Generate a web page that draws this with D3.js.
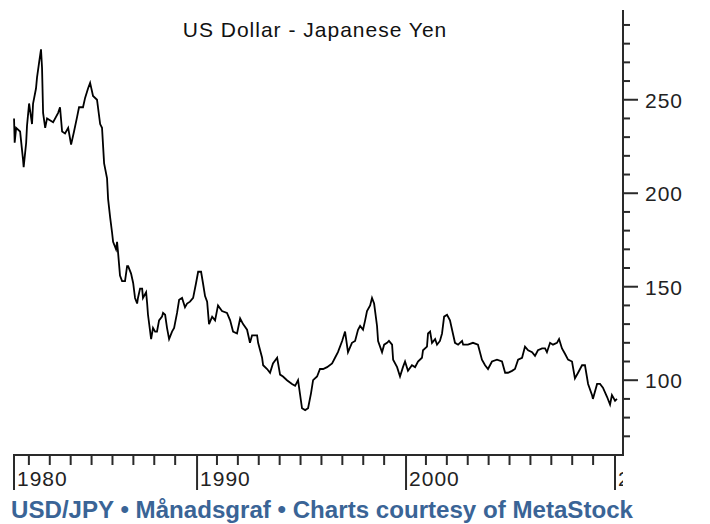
<!DOCTYPE html>
<html>
<head>
<meta charset="utf-8">
<script src="https://cdn.jsdelivr.net/npm/d3@7"></script>
<style>
    body { margin: 0; background: #fff; }
    svg { display: block; }
</style>
</head>
<body>
<div id="draw_here"></div>
<script type="text/javascript">
    // Data (decimal year, USD/JPY close)
    years = [
        1981.29, 1981.32, 1981.39, 1981.58, 1981.72, 1981.75, 1981.87, 1981.91, 1982.01, 1982.15,
        1982.20, 1982.34, 1982.39, 1982.49, 1982.58, 1982.63, 1982.68, 1982.78, 1982.87, 1983.16,
        1983.40, 1983.49, 1983.59, 1983.73, 1983.88, 1984.02, 1984.16, 1984.31, 1984.40, 1984.59,
        1984.69, 1984.83, 1984.93, 1985.07, 1985.26, 1985.41, 1985.50, 1985.60, 1985.74, 1985.79,
        1985.89, 1985.98, 1986.03, 1986.17, 1986.22, 1986.27, 1986.36, 1986.46, 1986.60, 1986.70,
        1986.75, 1986.89, 1986.99, 1987.08, 1987.18, 1987.22, 1987.32, 1987.42, 1987.46, 1987.61,
        1987.66, 1987.70, 1987.85, 1987.94, 1988.04, 1988.13, 1988.23, 1988.37, 1988.42, 1988.52,
        1988.61, 1988.71, 1988.85, 1988.95, 1989.09, 1989.19, 1989.33, 1989.47, 1989.57, 1989.71,
        1989.86, 1990.00, 1990.10, 1990.24, 1990.33, 1990.43, 1990.53, 1990.62, 1990.77, 1990.91,
        1991.05, 1991.24, 1991.48, 1991.63, 1991.77, 1991.96, 1992.11, 1992.25, 1992.44, 1992.58,
        1992.68, 1992.92, 1992.97, 1993.16, 1993.21, 1993.40, 1993.54, 1993.68, 1993.88, 1994.02,
        1994.16, 1994.35, 1994.59, 1994.74, 1994.88, 1995.07, 1995.22, 1995.36, 1995.50, 1995.60,
        1995.79, 1995.93, 1996.08, 1996.27, 1996.51, 1996.65, 1996.79, 1996.99, 1997.13, 1997.27,
        1997.46, 1997.61, 1997.75, 1997.85, 1997.99, 1998.09, 1998.18, 1998.33, 1998.42, 1998.52,
        1998.66, 1998.71, 1998.90, 1999.00, 1999.14, 1999.23, 1999.38, 1999.43, 1999.62, 1999.76,
        1999.90, 2000.00, 2000.14, 2000.33, 2000.48, 2000.62, 2000.81, 2000.86, 2001.05, 2001.10,
        2001.20, 2001.29, 2001.44, 2001.53, 2001.67, 2001.77, 2001.87, 2002.01, 2002.15, 2002.25,
        2002.39, 2002.54, 2002.73, 2002.78, 2003.01, 2003.25, 2003.49, 2003.68, 2003.83, 2003.97,
        2004.16, 2004.40, 2004.64, 2004.79, 2004.93, 2005.12, 2005.26, 2005.41, 2005.60, 2005.74,
        2005.89, 2006.08, 2006.22, 2006.36, 2006.56, 2006.70, 2006.79, 2006.94, 2007.08, 2007.27,
        2007.37, 2007.51, 2007.66, 2007.80, 2007.99, 2008.13, 2008.28, 2008.47, 2008.61, 2008.76,
        2008.95, 2008.99, 2009.19, 2009.33, 2009.47, 2009.67, 2009.81, 2009.90, 2010.05, 2010.14
    ]
    usdjpy = [
        240, 227, 235, 233, 218, 214, 227, 236, 248, 237,
        248, 256, 262, 270, 277, 267, 243, 235, 240, 238,
        243, 246, 233, 232, 235, 226, 233, 241, 246, 246,
        251, 256, 259, 252, 250, 237, 235, 216, 208, 197,
        187, 179, 174, 170, 174, 168, 156, 153, 153, 161,
        161, 157, 152, 144, 141, 144, 149, 149, 144, 147,
        141, 135, 122, 128, 126, 126, 132, 134, 136, 135,
        128, 122, 126, 128, 136, 143, 144, 139, 141, 142,
        144, 152, 158, 158, 152, 145, 142, 130, 134, 132,
        140, 137, 136, 132, 126, 125, 133, 130, 127, 120,
        124, 124, 120, 112, 108, 106, 104, 109, 112, 103,
        102, 100, 98, 97, 100, 85, 84, 85, 93, 100,
        102, 106, 106, 107, 109, 112, 115, 121, 126, 115,
        120, 121, 127, 129, 127, 132, 137, 140, 144, 141,
        129, 121, 115, 119, 120, 121, 119, 111, 107, 102,
        107, 110, 105, 108, 107, 110, 112, 116, 118, 125,
        126, 120, 122, 119, 121, 125, 134, 135, 132, 127,
        120, 119, 121, 119, 119, 120, 119, 111, 108, 106,
        110, 111, 110, 104, 104, 105, 106, 111, 112, 118,
        116, 115, 113, 116, 117, 117, 115, 120, 119, 120,
        122, 117, 114, 111, 110, 101, 104, 108, 108, 98,
        92, 90, 98, 98, 96, 91, 87, 92, 89, 90
    ]
    yTicks = [100, 150, 200, 250]
    yMinorTicks = [70, 80, 90, 110, 120, 130, 140, 160, 170, 180, 190, 210, 220, 230, 240, 260, 270, 280, 290]
    xLabels = ["1980", "1990", "2000", "2010"]
    xLabelYears = [1981.24, 1990, 2000, 2010]
    xMinorYears = [1982, 1983, 1984, 1985, 1986, 1987, 1988, 1989,
                   1991, 1992, 1993, 1994, 1995, 1996, 1997, 1998, 1999,
                   2001, 2002, 2003, 2004, 2005, 2006, 2007, 2008, 2009]
    title = "US Dollar - Japanese Yen"
    footer = "USD/JPY \u2022 M\u00e5nadsgraf \u2022 Charts courtesy of MetaStock"

    data = d3.zip(years, usdjpy).map(d => ({x: d[0], y: d[1]}))

    // Setup Chart
    canvas = ({width: 710, height: 524})
    plot = ({left: 13, right: 623, top: 10, bottom: 455})
    axisColor = "#2a2a2a"
    labelFont = "Liberation Sans, Arial, sans-serif"

    x = d3.scaleLinear()
        .domain([1981.24, 2010.43])
        .range([plot.left, plot.right])

    y = d3.scaleLinear()
        .domain([60, 298])
        .range([plot.bottom, plot.top])

    var svg = d3.select("div#draw_here").append("svg")
        .attr("width", canvas.width)
        .attr("height", canvas.height)
        .attr("viewBox", [0, 0, canvas.width, canvas.height])

    svg.append("defs").append("clipPath")
        .attr("id", "xclip")
        .append("rect")
        .attr("x", 0).attr("y", plot.bottom)
        .attr("width", plot.right).attr("height", 60)

    // Title
    svg.append("text")
        .attr("x", 315)
        .attr("y", 37)
        .attr("text-anchor", "middle")
        .attr("font-family", labelFont)
        .attr("font-size", 21)
        .attr("letter-spacing", 1)
        .attr("fill", "#111")
        .text(title)

    // Price line
    line = d3.line()
        .x(d => x(d.x))
        .y(d => y(d.y))

    svg.append("path")
        .attr("fill", "none")
        .attr("stroke", "#000")
        .attr("stroke-width", 1.8)
        .attr("stroke-linejoin", "miter")
        .attr("d", line(data))

    // Right price axis
    ya = svg.append("g")
    ya.append("line")
        .attr("x1", plot.right).attr("x2", plot.right)
        .attr("y1", plot.top).attr("y2", plot.bottom)
        .attr("stroke", axisColor).attr("stroke-width", 2)
    ya.selectAll(".ymin").data(yMinorTicks).join("line")
        .attr("x1", plot.right).attr("x2", plot.right + 7)
        .attr("y1", d => y(d)).attr("y2", d => y(d))
        .attr("stroke", axisColor).attr("stroke-width", 2)
    ya.selectAll(".ymaj").data(yTicks).join("line")
        .attr("x1", plot.right).attr("x2", plot.right + 15)
        .attr("y1", d => y(d)).attr("y2", d => y(d))
        .attr("stroke", axisColor).attr("stroke-width", 2)
    ya.selectAll("text").data(yTicks).join("text")
        .attr("x", 645)
        .attr("y", d => y(d) + 8)
        .attr("font-family", labelFont)
        .attr("font-size", 21)
        .attr("letter-spacing", 1)
        .attr("fill", "#222")
        .text(d => d)

    // Bottom time axis
    xa = svg.append("g")
    xa.append("line")
        .attr("x1", plot.left).attr("x2", plot.right + 1)
        .attr("y1", plot.bottom).attr("y2", plot.bottom)
        .attr("stroke", axisColor).attr("stroke-width", 2)
    xa.selectAll(".xmin").data(xMinorYears).join("line")
        .attr("x1", d => x(d)).attr("x2", d => x(d))
        .attr("y1", plot.bottom).attr("y2", plot.bottom + 10)
        .attr("stroke", axisColor).attr("stroke-width", 2)
    xa.selectAll(".xmaj").data(xLabelYears).join("line")
        .attr("x1", d => x(d) + 1).attr("x2", d => x(d) + 1)
        .attr("y1", plot.bottom).attr("y2", plot.bottom + 35)
        .attr("stroke", axisColor).attr("stroke-width", 2)
    xa.append("g")
        .attr("clip-path", "url(#xclip)")
        .selectAll("text").data(xLabels).join("text")
        .attr("x", (d, i) => x(xLabelYears[i]) + 4)
        .attr("y", 486)
        .attr("font-family", labelFont)
        .attr("font-size", 21)
        .attr("letter-spacing", 1)
        .attr("fill", "#222")
        .text(d => d)

    // Footer credit
    svg.append("text")
        .attr("x", 11)
        .attr("y", 518)
        .attr("font-family", "Liberation Sans Narrow, Arial Narrow, Liberation Sans, sans-serif")
        .attr("font-weight", "bold")
        .attr("font-size", 23)
        .attr("textLength", 622)
        .attr("lengthAdjust", "spacingAndGlyphs")
        .attr("fill", "#3a6496")
        .text(footer)
</script>
</body>
</html>
